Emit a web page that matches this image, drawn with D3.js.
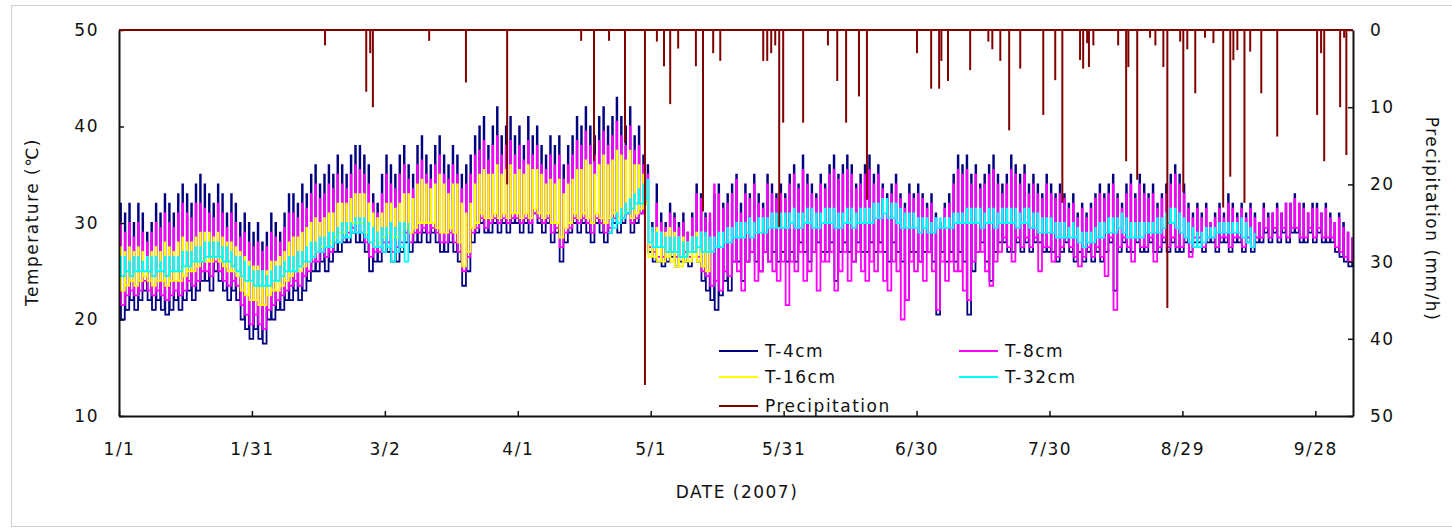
<!DOCTYPE html>
<html>
<head>
<meta charset="utf-8">
<script src="https://cdn.jsdelivr.net/npm/d3@7/dist/d3.min.js"></script>
<style>
  body { margin: 0; background: #fff; }
  text { font-family: "DejaVu Sans", "Liberation Sans", sans-serif; }
</style>
</head>
<body>
<script>
// day 0 = 1/1/2007, one min and one max per day
const tickDays = [0, 30, 60, 90, 120, 150, 180, 210, 240, 270];
const tickLabels = ["1/1", "1/31", "3/2", "4/1", "5/1", "5/31", "6/30", "7/30", "8/29", "9/28"];
const tempTicks = [10, 20, 30, 40, 50];
const rainTicks = [0, 10, 20, 30, 40, 50];

// T-4cm (d0 - d278)
const t4Max = [
  32, 31, 32, 30, 32, 31, 29, 30, 32, 31,
  33, 32, 31, 33, 34, 33, 32, 34, 35, 34,
  33, 32, 34, 33, 31, 33, 32, 30, 31, 30,
  29, 30, 28, 29, 31, 30, 29, 31, 33, 33,
  32, 34, 33, 35, 36, 34, 35, 36, 35, 37,
  36, 35, 37, 38, 38, 37, 36, 33, 32, 35,
  37, 36, 35, 37, 38, 36, 35, 38, 39, 37,
  36, 38, 39, 37, 36, 38, 37, 35, 36, 37,
  39, 40, 41, 38, 40, 42, 39, 40, 41, 39,
  40, 38, 41, 39, 40, 38, 37, 39, 38, 39,
  36, 38, 39, 41, 40, 42, 40, 39, 41, 42,
  40, 41, 43, 41, 40, 42, 39, 40, 37, 36,
  30, 34, 31, 30, 32, 31, 30, 31, 29, 31,
  34, 33, 31, 30, 33, 34, 32, 33, 34, 35,
  32, 34, 33, 35, 33, 32, 35, 34, 33, 34,
  33, 35, 36, 34, 37, 35, 34, 33, 35, 34,
  36, 37, 35, 36, 37, 36, 34, 35, 36, 37,
  35, 36, 34, 33, 34, 35, 33, 32, 34, 33,
  34, 33, 32, 33, 31, 30, 32, 33, 35, 37,
  36, 37, 35, 36, 34, 35, 36, 37, 35, 34,
  35, 37, 36, 35, 36, 34, 35, 34, 33, 35,
  34, 33, 34, 33, 32, 33, 31, 32, 31, 32,
  33, 34, 33, 34, 35, 33, 32, 34, 35, 33,
  35, 34, 33, 34, 32, 33, 34, 35, 36, 35,
  34, 32, 31, 32, 31, 32, 30, 31, 32, 31,
  33, 32, 31, 32, 31, 32, 31, 30, 32, 31,
  31, 32, 31, 32, 32, 33, 32, 32, 31, 32,
  32, 31, 32, 31, 30, 31, 30, 29, 28.5
];
const t4Min = [
  21, 20, 21, 22, 21, 22, 23, 22, 21, 22,
  21, 20.5, 21, 22, 21, 22, 23, 22, 23, 24,
  24, 23, 25, 24, 23, 22, 23, 22, 20, 19,
  18, 19, 18, 17.5, 20, 20, 21, 21, 22, 22,
  23, 22, 23, 24, 25, 25, 26, 25, 26, 27,
  27, 28, 28, 29, 28, 28, 27, 25, 26, 26,
  27, 27, 26, 26, 27, 28, 27, 28, 28, 29,
  28, 29, 28, 27, 27, 28, 27, 26, 23.5, 25,
  28, 29, 30, 29, 29, 30, 29, 30, 29, 30,
  30, 29, 30, 29, 31, 30, 29, 30, 28, 29,
  26, 28, 29, 30, 29, 30, 29, 28, 30, 29,
  28, 29, 30, 29, 30, 31, 29, 30, 31, 32,
  27, 26, 26, 25.5, 26, 26.5, 25.5, 26, 26, 25.5,
  27, 26, 24, 23, 22, 21, 22.5, 24, 23, 26,
  26, 24, 26, 27, 26, 25, 27, 26, 27, 26,
  27, 26, 27, 26, 28, 27, 26, 27, 28, 27,
  27, 28, 24, 27, 28, 27, 26, 28, 27, 27,
  28, 27, 28, 27, 26, 28, 27, 26, 22, 27,
  27, 26, 27, 27, 26, 20.5, 27, 26, 27, 26,
  27, 26, 20.5, 25, 27, 28, 26, 24, 27, 28,
  28, 27, 27, 28, 27, 28, 27, 28, 28, 27,
  27, 27, 26, 27, 28, 27, 26, 27, 26, 27,
  26, 27, 26, 27, 28, 23, 27, 28, 27, 27,
  28, 27, 27, 28, 27, 27, 28, 27, 28, 27,
  27, 28, 27, 28, 28, 27, 28, 28, 27, 28,
  28, 27, 28, 28, 27, 28, 27, 28, 28, 29,
  28, 29, 28, 29, 28, 29, 29, 28, 28, 29,
  28, 29, 28, 28, 28, 27, 26.5, 26, 25.5
];

// T-8cm (d0 - d278)
const t8Max = [
  30, 29, 30, 28.5, 30, 29, 28, 29, 30, 29.5,
  31, 30, 29.5, 31, 32, 31, 30.5, 32, 32, 31.5,
  31, 30.5, 32, 31, 29.5, 31, 30, 28.5, 29, 28,
  27.5, 28, 27, 27.5, 29, 28.5, 28, 29.5, 31, 31,
  30.5, 32, 31.5, 33, 34, 32.5, 33, 34, 33.5, 35,
  34, 33.5, 35, 36, 35.5, 35, 34, 32, 31, 33,
  35, 34, 33.5, 35, 36, 34.5, 33.5, 36, 36.5, 35,
  34.5, 36, 37, 35, 34.5, 36, 35, 33.5, 34, 35,
  37, 37.5, 38.5, 36.5, 38, 39, 37, 38, 38.5, 37,
  38, 36.5, 38.5, 37, 38, 36, 35.5, 37, 36, 37,
  34.5, 36, 37, 38.5, 38, 39.5, 38, 37, 38.5, 39.5,
  38, 39, 40.5, 39, 38, 40, 37.5, 38, 36, 35,
  29.5, 32, 30, 29.5, 31, 30.5, 29.5, 30, 29, 30.5,
  33, 32.5, 30.5, 31, 34, 33, 31.5, 32, 33, 34.5,
  31, 33, 32.5, 34, 32, 31.5, 34, 33, 32.5, 33,
  32.5, 34, 35, 33.5, 35.5, 34, 33, 32.5, 34, 33.5,
  35, 35.5, 34.5, 35, 35.5, 35, 33.5, 34, 35, 35.5,
  34, 35, 33.5, 32.5, 33, 34, 32.5, 31.5, 33, 32.5,
  33, 32.5, 31.5, 32, 30.5, 29.5, 31.5, 32, 34, 35.5,
  35, 35.5, 34, 35, 33.5, 34, 35, 35.5, 34, 33,
  34, 35.5, 35, 34, 35, 33, 34, 33, 32.5, 34,
  33, 32.5, 33, 32.5, 31.5, 32, 30.5, 31.5, 30.5, 31.5,
  32.5, 33, 32.5, 33, 34, 32.5, 31.5, 33, 34, 32.5,
  34, 33, 32.5, 33, 31.5, 32.5, 33, 34, 35, 34,
  33, 31.5, 30.5, 31.5, 30.5, 31.5, 30, 30.5, 31.5, 30.5,
  32, 31.5, 30.5, 31.5, 30.5, 31.5, 30.5, 30, 31.5, 30.5,
  31, 31.5, 31, 32, 32, 32.5, 32, 31.5, 31, 31.5,
  31.5, 31, 31.5, 30.5, 30, 30.5, 29.5, 29, 28.5
];
const t8Min = [
  22, 21.5, 22.5, 23, 22.5, 23, 24, 23, 22.5, 23,
  22.5, 22, 22.5, 23, 22.5, 23, 24, 23.5, 24, 25,
  25, 24.5, 26, 25, 24, 23.5, 24, 23.5, 21.5, 20.5,
  19.5, 20.5, 19.5, 19, 21, 21.5, 22, 22.5, 23, 23.5,
  24, 23.5, 24.5, 25, 26, 26, 27, 26.5, 27, 28,
  28, 28.5, 29, 29.5, 29, 29, 28, 26.5, 27, 27,
  28, 28, 27, 27.5, 28, 29, 28, 29, 29, 29.5,
  29, 29.5, 29, 28, 28, 29, 28, 27, 25, 26.5,
  29, 29.5, 30.5, 29.5, 30, 30.5, 30, 30.5, 30, 30.5,
  30.5, 30, 30.5, 30, 31, 30.5, 30, 30.5, 29, 29.5,
  27.5, 29, 29.5, 30.5, 30, 30.5, 30, 29, 30.5, 30,
  29, 29.5, 30.5, 30, 30.5, 31, 30, 30.5, 31, 32,
  27.5, 27, 26.5, 26.5, 27, 27, 26.5, 26.5, 27, 26.5,
  27, 26.5, 25, 24.5, 23.5, 24, 23, 25, 24.5, 26,
  25, 23, 26, 27, 24, 25, 27, 26, 25, 24,
  26, 21.5, 26, 25, 27, 24, 25, 27, 23, 26,
  26, 27, 23, 25, 27, 24, 26, 27, 25, 24,
  26, 25, 27, 24, 23, 26, 25, 20, 22, 26,
  25, 26, 24, 27, 25, 21, 26, 24, 26, 25,
  25, 23, 22, 26, 27, 27, 25, 23.5, 26, 27,
  28.5, 27.5, 26, 28.5, 27.5, 28.5, 27.5, 28.5, 25, 27.5,
  27.5, 26, 26.5, 27.5, 28.5, 27.5, 26.5, 25.5, 26.5, 27.5,
  26.5, 27.5, 26.5, 24.5, 28.5, 21, 27.5, 28.5, 27.5, 26,
  28.5, 27.5, 27.5, 28.5, 26, 27.5, 28.5, 27.5, 28.5, 27.5,
  27.5, 28.5, 26.5, 28.5, 28.5, 27.5, 28.5, 28.5, 27.5, 28.5,
  28.5, 27.5, 28.5, 28.5, 27.5, 28.5, 27.5, 28.5, 28.5, 29.5,
  28.5, 29.5, 28.5, 29.5, 28.5, 29.5, 29.5, 28.5, 28.5, 29.5,
  28.5, 29.5, 28.5, 28.5, 28.5, 27.5, 27, 26.5, 26
];

// T-16cm (d0 - d133, sensor stops mid-May)
const t16Max = [
  27.5, 27, 27.5, 27, 27.5, 27, 26.5, 27, 27.5, 27,
  28, 27.5, 27, 28, 28.5, 28, 28, 28.5, 29, 29,
  29, 28.5, 29, 28.5, 28, 28, 27.5, 27, 26.5, 26,
  25.5, 25.5, 25, 25, 26, 26, 26.5, 27, 28, 28.5,
  28.5, 29, 29.5, 30, 30.5, 30, 30.5, 31, 31, 32,
  32, 32, 32.5, 33, 33, 33, 32, 31, 30.5, 31,
  32, 32, 31.5, 32, 33, 33, 32.5, 34, 34.5, 34,
  33.5, 34, 35, 34, 33, 34, 34, 32, 31, 32,
  34, 35, 35.5, 35, 35, 36, 35, 35.5, 36, 35,
  35.5, 35, 36, 35.5, 35.5, 35, 34, 34.5, 34, 34.5,
  33, 34, 34.5, 35.5, 35.5, 36.5, 36, 35, 36, 37,
  36, 36.5, 37.5, 37, 36.5, 37.5, 36, 36, 35, 34,
  29, 29.5, 29, 29, 29.5, 29, 28.5, 28.5, 28, 28.5,
  29, 29, 28.5, 28
];
const t16Min = [
  23.5, 23, 23.5, 24, 23.5, 24, 24.5, 24, 23.5, 24,
  24, 23.5, 24, 24, 24, 24.5, 25, 25, 25.5, 26,
  26, 26, 26.5, 26, 25.5, 25, 25, 24.5, 23, 22.5,
  22, 22, 21.5, 21.5, 22.5, 23, 23, 23.5, 24, 24.5,
  25, 25, 25.5, 26, 26.5, 27, 27.5, 27.5, 28, 28.5,
  29, 29, 29.5, 30, 30, 30, 29, 28, 27.5, 28,
  28.5, 29, 28.5, 28.5, 29, 29.5, 29, 29.5, 30, 30,
  30, 30, 29.5, 29, 29, 29.5, 29, 28, 25.5, 27,
  29.5, 30, 31, 30.5, 30.5, 31, 30.5, 31, 30.5, 31,
  31, 30.5, 31, 30.5, 31.5, 31, 30.5, 31, 30, 30,
  28.5, 29.5, 30, 31, 30.5, 31, 30.5, 30, 31, 30.5,
  30, 30.5, 31, 30.5, 31, 31.5, 30.5, 31, 31.5, 32,
  26.5, 26.5, 26, 26, 26.5, 26, 25.5, 25.5, 26, 26,
  26.5, 26, 25.5, 25
];

// T-32cm, first segment d0 - d65
const t32MaxA = [
  26.5, 26.5, 26, 26.5, 26.5, 26, 26.5, 26.5, 26.5, 26,
  26.5, 26.5, 26.5, 26.5, 27, 27, 27, 27.5, 27.5, 28,
  28, 28, 28, 27.5, 27.5, 27, 26.5, 26.5, 26, 25.5,
  25, 25, 25, 24.5, 25, 25.5, 25.5, 26, 26.5, 26.5,
  27, 27, 27.5, 28, 28, 28.5, 28.5, 29, 29, 29.5,
  30, 30, 30, 30.5, 30.5, 30.5, 30, 29.5, 29, 29.5,
  29.5, 30, 29.5, 30, 30, 30
];
const t32MinA = [
  24.5, 24.5, 25, 24.5, 25, 25, 25, 25, 24.5, 25,
  25, 24.5, 25, 25, 25, 25.5, 25.5, 26, 26, 26,
  26.5, 26.5, 26.5, 26.5, 26, 26, 25.5, 25, 24.5, 24,
  24, 23.5, 23.5, 23.5, 23.5, 24, 24, 24.5, 25, 25,
  25, 25.5, 26, 26, 26.5, 27, 27, 27.5, 27.5, 28,
  28, 28.5, 28.5, 29, 29, 29, 28.5, 28, 27.5, 27.5,
  27, 27.5, 26, 27, 27.5, 26
];
// T-32cm, second segment d111 - d256
const t32MaxB = [
  30.5, 31, 31.5, 32, 32.5, 33, 33.5, 34, 34.5,
  29.5, 29, 29, 28.5, 28.5, 28.5, 28.5, 28, 28, 28.5,
  28.5, 29, 29, 28.5, 28.5, 29, 29, 29.5, 29.5, 30,
  30, 30, 30.5, 30, 30.5, 30.5, 30.5, 31, 31, 31,
  31, 31, 31.5, 31, 31, 31.5, 31.5, 31, 31, 31.5,
  31.5, 31.5, 31, 31, 31.5, 31.5, 31, 31.5, 31.5, 31.5,
  32, 32, 32.5, 32.5, 32, 32, 31.5, 31, 31, 31,
  30.5, 30.5, 30.5, 30, 30.5, 30.5, 30.5, 30.5, 31, 31,
  31, 31.5, 31.5, 31.5, 31.5, 31, 31.5, 31.5, 31, 31.5,
  31.5, 31.5, 31.5, 31, 31.5, 31.5, 31, 31, 30.5, 30.5,
  30.5, 30, 30, 30, 29.5, 30, 29.5, 29, 29, 29,
  29.5, 30, 30, 30.5, 30.5, 30.5, 31, 30.5, 30, 30,
  30, 30, 30, 30, 30.5, 30.5, 31, 31.5, 31.5, 31,
  30.5, 30, 29.5, 29, 29, 29.5, 29.5, 29.5, 30, 30,
  30, 30, 30, 30.5, 30, 29.5, 29
];
const t32MinB = [
  29, 29.5, 30, 30.5, 31, 31.5, 32, 32, 32.5,
  28, 27.5, 27.5, 27.5, 27, 27, 27, 26.5, 26.5, 27,
  27, 27.5, 27, 27, 27, 27.5, 27.5, 28, 28, 28.5,
  28.5, 28.5, 29, 28.5, 29, 29, 29, 29.5, 29.5, 29.5,
  29.5, 29.5, 30, 29.5, 29.5, 30, 30, 29.5, 29.5, 30,
  30, 30, 29.5, 29.5, 30, 30, 29.5, 30, 30, 30,
  30, 30.5, 30.5, 31, 30.5, 30.5, 30, 29.5, 29.5, 29.5,
  29.5, 29, 29.5, 29, 29, 29.5, 29.5, 29.5, 29.5, 30,
  30, 30, 30, 30, 30, 29.5, 30, 30, 29.5, 30,
  30, 30, 30, 29.5, 30, 30, 29.5, 29.5, 29, 29,
  29, 29, 28.5, 28.5, 28.5, 28.5, 28.5, 28, 27.5, 28,
  28, 28.5, 28.5, 29, 29, 29, 29.5, 29, 28.5, 28.5,
  28.5, 28.5, 29, 29, 29, 29, 29.5, 30, 30, 29.5,
  29, 28.5, 28, 27.5, 27.5, 28, 28.5, 28.5, 29, 29,
  29, 29, 29, 29, 28.5, 28, 27.5
];

// precipitation events: day (fractional) and mm/h
const rainDay = [
  46.5, 55.8, 56.7, 57.3, 70.0, 78.3, 87.6, 104.3, 107.2, 110.6,
  114.2, 118.7, 121.4, 123.0, 124.4, 126.2, 130.2, 131.8, 134.1, 135.7,
  145.4, 146.3, 147.2, 148.1, 149.0, 149.9, 154.4, 160.0, 162.1, 164.1,
  167.0, 168.8, 180.1, 183.3, 185.1, 185.6, 187.1, 192.1, 196.2, 197.1,
  198.9, 200.9, 203.4, 208.6, 211.3, 212.9, 216.9, 217.6, 218.5, 218.9,
  219.9, 225.5, 227.3, 227.8, 229.8, 232.7, 233.9, 235.7, 236.6, 239.5,
  240.2, 241.1, 242.9, 245.1, 247.0, 249.2, 250.8, 251.5, 252.4, 254.0,
  255.3, 257.8, 261.4, 270.4, 271.3, 272.0, 275.6, 276.5, 277.0
];
const rainMm = [
  2, 8, 3, 10, 1.4, 6.8, 20, 1.4, 17, 1.4,
  14.6, 46, 1.5, 4.7, 9.6, 2.4, 4.7, 23.5, 3, 4,
  4, 4, 3, 2, 25.5, 12, 12, 2, 6.6, 12,
  8.6, 22, 3, 7.6, 7.6, 4, 6.6, 5.2, 1.5, 2.5,
  4, 13, 5, 11, 6.5, 22.4, 3.9, 5, 1.7, 4.8,
  2, 2, 17, 4.8, 19.4, 1, 2, 4.8, 36, 1.5,
  21, 2.5, 8.2, 1, 1.7, 23, 19, 3.9, 2.6, 22.4,
  2.8, 8.2, 13.8, 11, 3, 17, 10, 1, 16.2
];

const W = 1452, H = 531;
const margin = { left: 119, right: 1353, top: 30, bottom: 416 };

const svg = d3.select("body").append("svg")
  .attr("width", W)
  .attr("height", H);

// outer frame
svg.append("rect")
  .attr("x", 11.5).attr("y", 5.5)
  .attr("width", 1450).attr("height", 521)
  .attr("fill", "none")
  .attr("stroke", "#cfcfcf");

const x = d3.scaleLinear().domain([0, 278.5]).range([margin.left, margin.right]);
const yT = d3.scaleLinear().domain([10, 50]).range([margin.bottom, margin.top]);
const yR = d3.scaleLinear().domain([0, 50]).range([margin.top, margin.bottom]);

// daily min (night, before) and max (afternoon) as points
let diurnal = (mins, maxs, start) => {
  let pts = [];
  mins.forEach((lo, i) => {
    pts.push([start + i - 0.55, lo]);
    pts.push([start + i + 0.3, maxs[i]]);
  });
  return pts;
};

// step curve: narrow afternoon peak, flat night
let line = d3.line()
  .curve(d3.curveStepAfter)
  .x(d => x(d[0]))
  .y(d => yT(d[1]));

const series = [
  { pts: [diurnal(t4Min, t4Max, 0)], color: "#000080" },
  { pts: [diurnal(t8Min, t8Max, 0)], color: "#ff00ff" },
  { pts: [diurnal(t16Min, t16Max, 0)], color: "#ffff00" },
  { pts: [diurnal(t32MinA, t32MaxA, 0), diurnal(t32MinB, t32MaxB, 111)], color: "#00ffff" }
];

let plot = svg.append("g")
  .attr("clip-path", "url(#plotClip)");

svg.append("clipPath")
  .attr("id", "plotClip")
  .append("rect")
  .attr("x", margin.left).attr("y", margin.top)
  .attr("width", margin.right - margin.left)
  .attr("height", margin.bottom - margin.top);

series.forEach(s => {
  s.pts.forEach(p => {
    plot.append("path")
      .attr("d", line(p))
      .attr("fill", "none")
      .attr("stroke", s.color)
      .attr("stroke-width", 1.8);
  });
});

// axes
const fontSize = "17px";
const spacing = "1.5px";

let styleAxis = g => {
  g.select(".domain").attr("stroke", "#111").attr("stroke-width", 2);
  g.selectAll(".tick line").attr("stroke", "#111").attr("stroke-width", 1.5);
  g.selectAll("text")
    .attr("fill", "#111")
    .style("font-size", fontSize)
    .style("letter-spacing", spacing);
};

svg.append("g")
  .attr("transform", `translate(${margin.left},0)`)
  .call(d3.axisLeft(yT).tickValues(tempTicks).tickSize(-5).tickSizeOuter(0).tickPadding(20))
  .call(styleAxis);

svg.append("g")
  .attr("transform", `translate(0,${margin.bottom})`)
  .call(d3.axisBottom(x).tickValues(tickDays).tickSize(-5).tickSizeOuter(0).tickPadding(27)
    .tickFormat((d, i) => tickLabels[i]))
  .call(styleAxis);

svg.append("g")
  .attr("transform", `translate(${margin.right},0)`)
  .call(d3.axisRight(yR).tickValues(rainTicks).tickSize(-5).tickSizeOuter(0).tickPadding(17))
  .call(styleAxis);

// precipitation hangs from the top
let rain = svg.append("g");
rain.append("line")
  .attr("x1", x(0)).attr("x2", x(278.5))
  .attr("y1", yR(0)).attr("y2", yR(0))
  .attr("stroke", "#800000")
  .attr("stroke-width", 2);

rain.selectAll(".bar")
  .data(rainDay)
  .enter()
  .append("line")
  .attr("class", "bar")
  .attr("x1", d => x(d))
  .attr("x2", d => x(d))
  .attr("y1", yR(0))
  .attr("y2", (d, i) => yR(rainMm[i]))
  .attr("stroke", "#800000")
  .attr("stroke-width", 2);

// titles
svg.append("text")
  .attr("transform", "translate(38,222)rotate(-90)")
  .attr("text-anchor", "middle")
  .style("font-size", fontSize)
  .style("letter-spacing", spacing)
  .attr("fill", "#111")
  .text("Temperature (℃)");

svg.append("text")
  .attr("transform", "translate(1426,219)rotate(90)")
  .attr("text-anchor", "middle")
  .style("font-size", fontSize)
  .style("letter-spacing", spacing)
  .attr("fill", "#111")
  .text("Precipitation (mm/h)");

svg.append("text")
  .attr("x", 737)
  .attr("y", 498)
  .attr("text-anchor", "middle")
  .style("font-size", fontSize)
  .style("letter-spacing", spacing)
  .attr("fill", "#111")
  .text("DATE (2007)");

// legend
const legendItems = [
  { name: "T-4cm", color: "#000080", lx: 719, ly: 351 },
  { name: "T-8cm", color: "#ff00ff", lx: 959, ly: 351 },
  { name: "T-16cm", color: "#ffff00", lx: 719, ly: 377 },
  { name: "T-32cm", color: "#00ffff", lx: 959, ly: 377 },
  { name: "Precipitation", color: "#800000", lx: 719, ly: 406 }
];

let legend = svg.append("g");
legendItems.forEach(item => {
  legend.append("line")
    .attr("x1", item.lx).attr("x2", item.lx + 39)
    .attr("y1", item.ly).attr("y2", item.ly)
    .attr("stroke", item.color)
    .attr("stroke-width", 2);
  legend.append("text")
    .attr("x", item.lx + 46)
    .attr("y", item.ly)
    .attr("dy", "0.35em")
    .style("font-size", fontSize)
    .style("letter-spacing", spacing)
    .attr("fill", "#111")
    .text(item.name);
});
</script>
</body>
</html>
